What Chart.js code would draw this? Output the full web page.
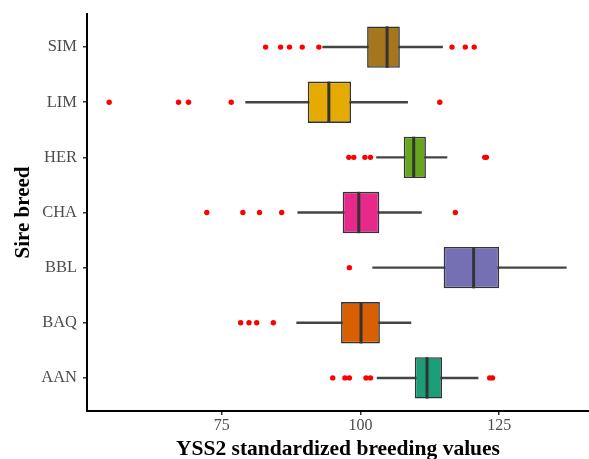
<!DOCTYPE html>
<html>
<head>
<meta charset="utf-8">
<script src="https://cdn.jsdelivr.net/npm/chart.js@4"></script>
<style>
html,body{margin:0;padding:0;background:#fff;}
#wrap{width:589px;height:459px;}
</style>
</head>
<body>
<div id="wrap"><canvas id="c" width="589" height="459"></canvas></div>
<script>
const categories = ['SIM','LIM','HER','CHA','BBL','BAQ','AAN'];
const whiskerLow  = [93.2, 79.3, 102.9, 88.7, 102.2, 88.5, 103.0];
const q1          = [101.2, 90.5, 107.8, 96.8, 115.0, 96.5, 109.8];
const median      = [104.8, 94.3, 109.6, 99.7, 120.4, 100.1, 112.0];
const q3          = [107.1, 98.3, 111.8, 103.4, 125.0, 103.5, 114.7];
const whiskerHigh = [114.8, 108.5, 115.6, 111.0, 137.1, 109.1, 121.2];
const outliersSIM = [82.9, 85.6, 87.2, 89.5, 92.5, 116.5, 118.9, 120.5];
const outliersLIM = [54.7, 67.2, 69.0, 76.7, 114.3];
const outliersHER = [97.9, 98.8, 100.8, 101.8, 122.4, 122.7];
const outliersCHA = [72.3, 78.8, 81.8, 85.8, 117.1];
const outliersBBL = [98.0];
const outliersBAQ = [78.4, 79.9, 81.3, 84.3];
const outliersAAN = [95.0, 97.2, 98.0, 101.0, 101.8, 123.3, 123.8];
const xTicks = [75, 100, 125];
const boxColors = ['#A6761D','#E6AB02','#66A61E','#E7298A','#7570B3','#D95F02','#1B9E77'];

const outlierLists = [outliersSIM, outliersLIM, outliersHER, outliersCHA, outliersBBL, outliersBAQ, outliersAAN];
const outlierPoints = [];
outlierLists.forEach((arr, i) => arr.forEach(v => outlierPoints.push({x: v, y: i})));

const medianPlugin = {
  id: 'medianLines',
  afterDatasetsDraw(chart) {
    const meta = chart.getDatasetMeta(1);
    const xs = chart.scales.x;
    const ctx = chart.ctx;
    ctx.save();
    ctx.strokeStyle = '#333333';
    ctx.lineWidth = 3;
    meta.data.forEach((bar, i) => {
      const px = xs.getPixelForValue(median[i]);
      const h = bar.height / 2;
      ctx.beginPath();
      ctx.moveTo(px, bar.y - h);
      ctx.lineTo(px, bar.y + h);
      ctx.stroke();
    });
    ctx.restore();
  }
};

const serif = "'Liberation Serif', 'DejaVu Serif', serif";

new Chart(document.getElementById('c'), {
  type: 'bar',
  data: {
    datasets: [
      {
        type: 'bar',
        data: categories.map((c, i) => ({x: [whiskerLow[i], whiskerHigh[i]], y: i})),
        backgroundColor: '#444444',
        borderWidth: 0,
        barThickness: 1.8,
        grouped: false,
        order: 3
      },
      {
        type: 'bar',
        data: categories.map((c, i) => ({x: [q1[i], q3[i]], y: i})),
        backgroundColor: boxColors,
        borderColor: '#333333',
        borderWidth: 1.6,
        borderSkipped: false,
        barPercentage: 0.75,
        categoryPercentage: 1,
        grouped: false,
        order: 2
      },
      {
        type: 'scatter',
        data: outlierPoints,
        backgroundColor: '#FF0000',
        borderWidth: 0,
        pointRadius: 2.7,
        order: 1
      }
    ]
  },
  options: {
    indexAxis: 'y',
    responsive: false,
    animation: false,
    layout: {autoPadding: false, padding: {top: 14, right: 0, left: 11, bottom: 0}},
    plugins: {legend: {display: false}, tooltip: {enabled: false}},
    scales: {
      x: {
        type: 'linear',
        min: 50.7,
        max: 141.2,
        offset: false,
        afterBuildTicks: s => { s.ticks = xTicks.map(v => ({value: v})); },
        afterFit: s => { s.height = 48; s.paddingRight = 0; s.paddingLeft = 0; },
        border: {display: true, color: '#000000', width: 2},
        grid: {offset: false, drawOnChartArea: false, drawTicks: true, tickLength: 4, color: '#333333', lineWidth: 1.5},
        ticks: {color: '#4D4D4D', font: {family: serif, size: 16}, padding: 1, maxRotation: 0},
        title: {display: true, text: 'YSS2 standardized breeding values', color: '#000000',
                font: {family: serif, size: 21.5, weight: 'bold'}, padding: {top: 0, bottom: -3}}
      },
      y: {
        type: 'linear',
        reverse: true,
        min: -0.6,
        max: 6.6,
        offset: false,
        afterBuildTicks: s => { s.ticks = categories.map((c, i) => ({value: i})); },
        afterFit: s => { s.width = 76; s.paddingTop = 0; s.paddingBottom = 0; },
        border: {display: true, color: '#000000', width: 2},
        grid: {offset: false, drawOnChartArea: false, drawTicks: true, tickLength: 4, color: '#333333', lineWidth: 1.5},
        ticks: {color: '#4D4D4D', font: {family: serif, size: 16.5}, padding: 6,
                callback: (v) => categories[v]},
        title: {display: true, text: 'Sire breed', color: '#000000',
                font: {family: serif, size: 21, weight: 'bold'}, padding: {top: 0, bottom: 0}}
      }
    }
  },
  plugins: [medianPlugin]
});
</script>
</body>
</html>
